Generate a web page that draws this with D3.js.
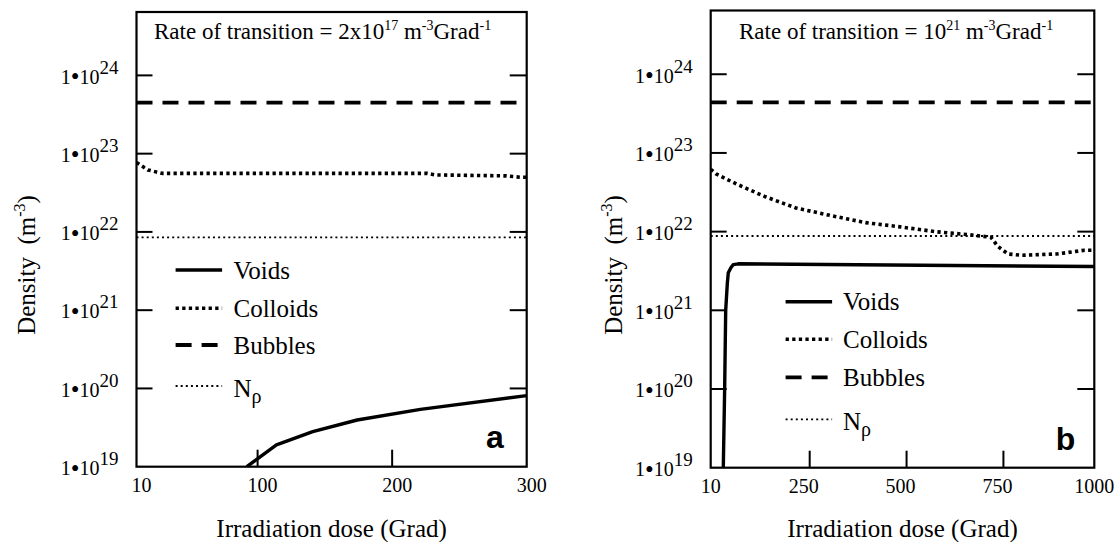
<!DOCTYPE html>
<html lang="en">
<head>
<meta charset="UTF-8">
<title>Density vs irradiation dose</title>
<script src="https://d3js.org/d3.v7.min.js"></script>
<style>
    body { margin: 0; background: #fff; }
    svg { display: block; font-family: "Liberation Serif", "Times New Roman", serif; }
</style>
</head>
<body>
<div id="chart"></div>
<script>
    // ---- data (dose in Grad, density in m^-3) ----
    // panel a : rate of transition = 2x10^17
    const voidsA_dose = [92, 114, 141, 174, 221, 300];
    const voidsA_density = [1e19, 1.9e19, 2.8e19, 3.95e19, 5.4e19, 8.1e19];
    const colloidsA_dose = [10, 18.5, 29, 226, 232, 285, 295, 300];
    const colloidsA_density = [7.7e22, 6.2e22, 5.6e22, 5.6e22, 5.35e22, 5.2e22, 5.0e22, 5.0e22];
    const bubblesA_dose = [10, 300];
    const bubblesA_density = [4.5e23, 4.5e23];
    const npA_dose = [10, 300];
    const npA_density = [8.5e21, 8.5e21];

    // panel b : rate of transition = 10^21
    const voidsB_dose = [42.5, 46, 48.7, 52.9, 55.4, 62.4, 68.3, 81.2, 1000];
    const voidsB_density = [1e19, 1e20, 1e21, 2.2e21, 3.0e21, 3.5e21, 3.8e21, 3.9e21, 3.6e21];
    const colloidsB_dose = [10, 24, 78, 149, 230, 320, 410, 499, 589, 679, 733, 751, 777, 813, 903, 975, 1000];
    const colloidsB_density = [6.2e22, 5.4e22, 4.0e22, 2.8e22, 2.0e22, 1.6e22, 1.3e22, 1.15e22, 1.0e22,
                               9.1e21, 8.5e21, 6.5e21, 5.2e21, 5.0e21, 5.2e21, 5.8e21, 5.8e21];
    const bubblesB_dose = [10, 1000];
    const bubblesB_density = [4.4e23, 4.4e23];
    const npB_dose = [10, 1000];
    const npB_density = [8.8e21, 8.8e21];

    // axes
    const yTicks = [1e19, 1e20, 1e21, 1e22, 1e23, 1e24];
    const xDomainA = [10, 300];
    const xTicksA = [100, 200];
    const xLabelsA = [10, 100, 200, 300];
    const xDomainB = [10, 1000];
    const xTicksB = [250, 500, 750];
    const xLabelsB = [10, 250, 500, 750, 1000];
    const seriesNames = ["Voids", "Colloids", "Bubbles", "N"];

    // ---- drawing ----
    const width = 1115, height = 542;
    const svg = d3.select("#chart").append("svg")
        .attr("width", width)
        .attr("height", height);

    // line styles for Voids, Colloids, Bubbles, N rho
    const styles = [
        { w: 3.4, dash: null },
        { w: 3.6, dash: "3.3,3.3" },
        { w: 3.8, dash: "16,10" },
        { w: 1.8, dash: "2,3.1" }
    ];

    const panels = [
        {
            id: "a", left: 136.5, right: 526.7, top: 12, bottom: 466.7,
            xDomain: xDomainA, xTicks: xTicksA, xLabels: xLabelsA, labelShift: 5, tickShift: 0,
            series: [[voidsA_dose, voidsA_density], [colloidsA_dose, colloidsA_density],
                     [bubblesA_dose, bubblesA_density], [npA_dose, npA_density]],
            titleX: 154, titleY: 38.5, title: ["Rate of transition = 2x10", "17"],
            yTitleX: 35, legendX: 175.6, legendTextX: 233.5, legendY: [270, 308.3, 345, 386],
            tagGap: 23, tagY: 448
        },
        {
            id: "b", left: 710.7, right: 1094.3, top: 10.5, bottom: 467.7,
            xDomain: xDomainB, xTicks: xTicksB, xLabels: xLabelsB, labelShift: 0, tickShift: 6,
            series: [[voidsB_dose, voidsB_density], [colloidsB_dose, colloidsB_density],
                     [bubblesB_dose, bubblesB_density], [npB_dose, npB_density]],
            titleX: 739, titleY: 39, title: ["Rate of transition = 10", "21"],
            yTitleX: 622, legendX: 785.6, legendTextX: 843, legendY: [301.7, 339.3, 377.3, 419.3],
            tagGap: 19, tagY: 450
        }
    ];

    panels.forEach(p => {
        const x = d3.scaleLinear().domain(p.xDomain).range([p.left, p.right]);
        const y = d3.scaleLog().domain([1e19, Math.pow(10, 24.81)]).range([p.bottom, p.top]);
        const g = svg.append("g");

        // clip for the curves
        g.append("clipPath").attr("id", "clip-" + p.id)
            .append("rect")
            .attr("x", p.left).attr("y", p.top)
            .attr("width", p.right - p.left).attr("height", p.bottom - p.top);

        const line = d3.line().x(d => x(d[0])).y(d => y(d[1]));

        p.series.forEach((s, i) => {
            g.append("path")
                .attr("clip-path", `url(#clip-${p.id})`)
                .attr("d", line(d3.zip(s[0], s[1])))
                .attr("fill", "none")
                .attr("stroke", "#000")
                .attr("stroke-width", styles[i].w)
                .attr("stroke-dasharray", styles[i].dash)
                .attr("stroke-linejoin", "round");
        });

        // frame
        g.append("rect")
            .attr("x", p.left).attr("y", p.top)
            .attr("width", p.right - p.left).attr("height", p.bottom - p.top)
            .attr("fill", "none").attr("stroke", "#000").attr("stroke-width", 2.2);

        // y ticks, inside on both sides
        const yt = g.append("g").attr("stroke", "#000").attr("stroke-width", 2);
        yTicks.slice(1).forEach(t => {
            yt.append("line").attr("x1", p.left).attr("x2", p.left + 16)
                .attr("y1", y(t)).attr("y2", y(t));
            yt.append("line").attr("x1", p.right - 17).attr("x2", p.right)
                .attr("y1", y(t)).attr("y2", y(t));
        });

        // y tick labels 1•10^n
        yTicks.forEach(t => {
            const txt = g.append("text")
                .attr("x", p.left - 18)
                .attr("y", y(t) + 8.3)
                .attr("text-anchor", "end")
                .attr("font-size", 20);
            txt.append("tspan").text("1");
            txt.append("tspan").attr("font-size", 25).attr("dy", 1.5).text("\u2022");
            txt.append("tspan").attr("dy", -1.5).text("10");
            txt.append("tspan").attr("dy", -10).attr("font-size", 19).text(Math.round(Math.log10(t)));
        });

        // x ticks
        p.xTicks.forEach(t => {
            g.append("line")
                .attr("x1", x(t) + p.tickShift).attr("x2", x(t) + p.tickShift)
                .attr("y1", p.bottom).attr("y2", p.bottom - 17)
                .attr("stroke", "#000").attr("stroke-width", 2);
        });
        p.xLabels.forEach(t => {
            g.append("text")
                .attr("x", x(t) + p.labelShift)
                .attr("y", p.bottom + 25.5)
                .attr("text-anchor", "middle")
                .attr("font-size", 20)
                .text(t);
        });

        // axis titles
        g.append("text")
            .attr("x", (p.left + p.right) / 2)
            .attr("y", 537)
            .attr("text-anchor", "middle")
            .attr("font-size", 25)
            .text("Irradiation dose (Grad)");

        const yTitle = g.append("text")
            .attr("transform", `translate(${p.yTitleX},265) rotate(-90)`)
            .attr("text-anchor", "middle")
            .attr("font-size", 25);
        yTitle.append("tspan").text("Density\u00a0\u00a0(m");
        yTitle.append("tspan").attr("dy", -10).attr("font-size", 16).text("-3");
        yTitle.append("tspan").attr("dy", 10).text(")");

        // title inside the frame
        const title = g.append("text")
            .attr("x", p.titleX).attr("y", p.titleY)
            .attr("font-size", 23);
        title.append("tspan").text(p.title[0]);
        title.append("tspan").attr("dy", -9).attr("font-size", 14).text(p.title[1]);
        title.append("tspan").attr("dy", 9).text(" m");
        title.append("tspan").attr("dy", -9).attr("font-size", 14).text("-3");
        title.append("tspan").attr("dy", 9).text("Grad");
        title.append("tspan").attr("dy", -9).attr("font-size", 14).text("-1");

        // legend
        seriesNames.forEach((name, i) => {
            const ly = p.legendY[i];
            g.append("line")
                .attr("x1", p.legendX).attr("x2", p.legendX + 46.5)
                .attr("y1", ly).attr("y2", ly)
                .attr("stroke", "#000")
                .attr("stroke-width", styles[i].w)
                .attr("stroke-dasharray", styles[i].dash);
            const lt = g.append("text")
                .attr("x", p.legendTextX)
                .attr("y", ly + (i === 3 ? 10.7 : 8.5))
                .attr("font-size", 25);
            lt.append("tspan").text(name);
            if (i === 3) lt.append("tspan").attr("dy", 6).attr("font-size", 20).text("\u03c1");
        });

        // panel tag
        g.append("text")
            .attr("x", p.right - p.tagGap)
            .attr("y", p.tagY)
            .attr("text-anchor", "end")
            .attr("font-family", "'Liberation Sans', Arial, sans-serif")
            .attr("font-weight", "bold")
            .attr("font-size", 32)
            .text(p.id);
    });
</script>
</body>
</html>
